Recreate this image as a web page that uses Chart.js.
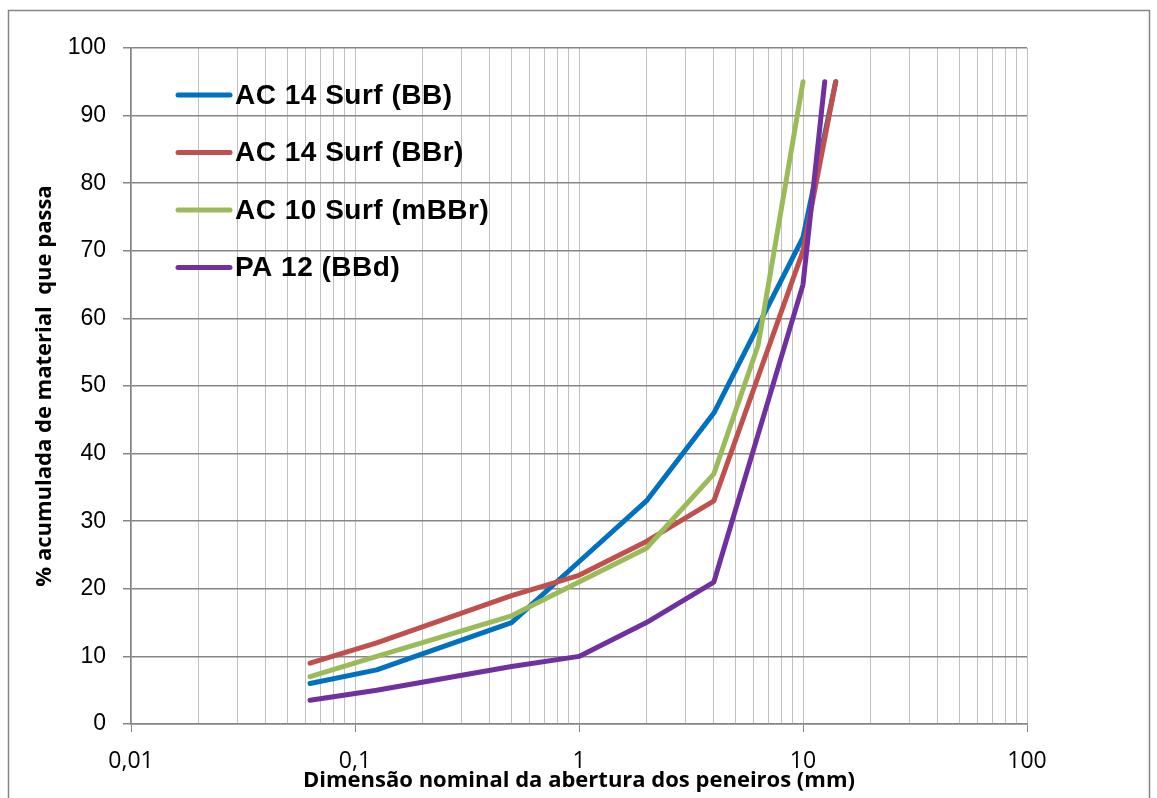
<!DOCTYPE html>
<html>
<head>
<meta charset="utf-8">
<script src="https://cdn.jsdelivr.net/npm/chart.js@4"></script>
<style>
  html, body { margin: 0; padding: 0; background: #fff; }
  #wrap { position: relative; width: 1157px; height: 798px; }
</style>
</head>
<body>
<div id="wrap"><canvas id="graf" width="1157" height="798"></canvas></div>
<script>
// Curvas granulométricas (abertura em mm, % passado acumulado)
const serieNomes = ['AC 14 Surf (BB)', 'AC 14 Surf (BBr)', 'AC 10 Surf (mBBr)', 'PA 12 (BBd)'];
const serieCores = ['#0070C0', '#C0504D', '#9BBB59', '#7030A0'];

const aberturaBB = [0.063, 0.125, 0.5, 1, 2, 4, 10, 14];
const passadoBB = [6, 8, 15, 24, 33, 46, 72, 95];

const aberturaBBr = [0.063, 0.125, 0.5, 1, 2, 4, 10, 14];
const passadoBBr = [9, 12, 19, 22, 27, 33, 70, 95];

const aberturaMBBr = [0.063, 0.125, 0.5, 1, 2, 4, 6.3, 10];
const passadoMBBr = [7, 10, 16, 21, 26, 37, 56, 95];

const aberturaBBd = [0.063, 0.125, 0.5, 1, 2, 4, 10, 12.5];
const passadoBBd = [3.5, 5, 8.5, 10, 15, 21, 65, 95];

// Eixo x: décadas e rótulos
const decadas = [0.01, 0.1, 1, 10, 100];
const rotulosX = ['0,01', '0,1', '1', '10', '100'];

function pontos(xs, ys) {
    return xs.map((x, i) => ({ x: x, y: ys[i] }));
}

const dadosSeries = [
    pontos(aberturaBB, passadoBB),
    pontos(aberturaBBr, passadoBBr),
    pontos(aberturaMBBr, passadoMBBr),
    pontos(aberturaBBd, passadoBBd)
];

function ehDecada(v) {
    return decadas.some(d => Math.abs(v - d) / d < 1e-6);
}

// Moldura externa + legenda dentro da área do gráfico
const molduraLegenda = {
    id: 'molduraLegenda',
    beforeDraw(chart) {
        const ctx = chart.ctx;
        ctx.save();
        ctx.strokeStyle = '#868686';
        ctx.lineWidth = 1.5;
        ctx.strokeRect(8.5, 10.5, 1141, 800);
        ctx.restore();
    },
    afterDraw(chart) {
        const ctx = chart.ctx;
        ctx.save();
        ctx.font = 'bold 28px "Liberation Sans", Arial, sans-serif';
        ctx.letterSpacing = '0.5px';
        ctx.textBaseline = 'middle';
        ctx.textAlign = 'left';
        serieNomes.forEach((nome, i) => {
            const y = 95 + i * 57.5;
            ctx.strokeStyle = serieCores[i];
            ctx.lineWidth = 5;
            ctx.lineCap = 'round';
            ctx.beginPath();
            ctx.moveTo(178, y);
            ctx.lineTo(230, y);
            ctx.stroke();
            ctx.fillStyle = '#000';
            ctx.fillText(nome, 235, y + 1);
        });
        ctx.restore();
    }
};

const ctx = document.getElementById('graf').getContext('2d');
new Chart(ctx, {
    type: 'line',
    data: {
        datasets: dadosSeries.map((d, i) => ({
            label: serieNomes[i],
            data: d,
            borderColor: serieCores[i],
            backgroundColor: serieCores[i],
            borderWidth: 5,
            pointRadius: 0,
            tension: 0,
            fill: false,
            borderCapStyle: 'round',
            borderJoinStyle: 'round',
            order: 4 - i
        }))
    },
    options: {
        responsive: false,
        animation: false,
        devicePixelRatio: 1,
        layout: { padding: { left: 0, top: 48, right: 130, bottom: 0 } },
        plugins: {
            legend: { display: false },
            tooltip: { enabled: false }
        },
        scales: {
            x: {
                type: 'logarithmic',
                min: 0.01,
                max: 100,
                afterBuildTicks(scale) {
                    const t = [];
                    for (let e = -2; e < 2; e++) {
                        for (let m = 1; m <= 9; m++) {
                            t.push({ value: m * Math.pow(10, e) });
                        }
                    }
                    t.push({ value: 100 });
                    scale.ticks = t;
                },
                afterFit(scale) { scale.height = 74; },
                ticks: {
                    autoSkip: false,
                    maxRotation: 0,
                    padding: 16,
                    color: '#000',
                    font: { family: '"Open Sans", sans-serif', size: 23 },
                    callback(v) {
                        const i = decadas.findIndex(d => Math.abs(v - d) / d < 1e-6);
                        return i >= 0 ? rotulosX[i] : '';
                    }
                },
                grid: {
                    color: '#c0c0c0',
                    lineWidth: 1,
                    tickLength: 8,
                    tickColor: c => (c.tick && ehDecada(c.tick.value)) ? '#868686' : 'rgba(0,0,0,0)'
                },
                border: { color: '#868686', width: 1.5 },
                title: {
                    display: true,
                    text: 'Dimensão nominal da abertura dos peneiros (mm)',
                    color: '#000',
                    font: { family: '"Open Sans", sans-serif', size: 22, weight: 'bold' },
                    padding: { top: 0, bottom: 4 }
                }
            },
            y: {
                min: 0,
                max: 100,
                afterFit(scale) { scale.width = 131; },
                ticks: {
                    stepSize: 10,
                    padding: 17,
                    color: '#000',
                    font: { family: '"Liberation Sans", Arial, sans-serif', size: 23 }
                },
                grid: {
                    color: '#868686',
                    lineWidth: 1.5,
                    tickLength: 8,
                    tickColor: '#868686'
                },
                border: { color: '#868686', width: 1.5 },
                title: {
                    display: true,
                    text: '% acumulada de material  que passa',
                    color: '#000',
                    font: { family: '"Open Sans", sans-serif', size: 22, weight: 'bold' },
                    padding: { top: 32, bottom: 0 }
                }
            }
        }
    },
    plugins: [molduraLegenda]
});
</script>
</body>
</html>
